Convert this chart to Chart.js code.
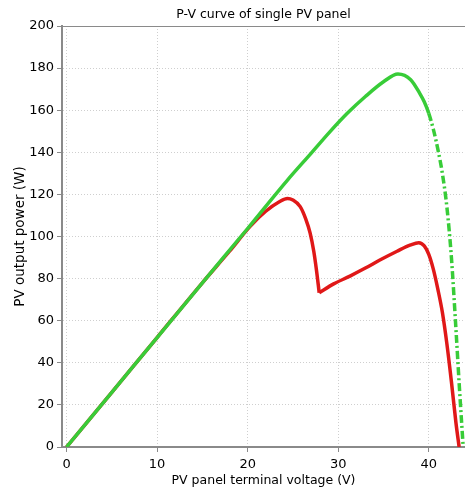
<!DOCTYPE html>
<html>
<head>
<meta charset="utf-8">
<script src="https://cdn.jsdelivr.net/npm/chart.js@4/dist/chart.umd.min.js"></script>
<style>
  html, body { margin: 0; padding: 0; background: #fff; }
  #wrap { width: 465px; height: 489px; }
</style>
</head>
<body>
<div id="wrap"><canvas id="pv_chart"></canvas></div>
<script>
// full panel curve (green)
const fullVoltage = [0, 5, 10, 15, 20, 24.4, 27, 29.1, 31, 33, 35, 36.6, 38, 39, 39.5, 40, 40.5, 41, 41.5, 42, 42.5, 43, 43.4, 43.8]
const fullPower   = [0, 26, 52, 78, 103.8, 126.8, 139.5, 149.8, 158.5, 166.5, 173.5, 177.2, 174.5, 168, 164, 158.5, 151, 141.5, 130, 114, 90, 56, 27, 0]

// partially shaded curve (red)
const shadedVoltage = [0, 5, 10, 15, 18, 20.25, 22, 23.5, 24.4, 25, 25.8, 26.4, 26.9, 27.3, 27.6, 27.9, 29.5, 31.3, 33, 34.6, 36.5, 38, 38.9, 39.5, 40, 40.5, 41, 41.5, 42, 42.5, 43, 43.35]
const shadedPower   = [0, 26, 52, 78, 93, 104.7, 112, 116.5, 118.1, 117.3, 114.2, 108.5, 101.6, 93, 84, 73.3, 77.5, 81.2, 85, 88.8, 93, 96, 97, 95.5, 91.5, 84.5, 75, 64, 49, 31, 11.5, 0]

const xTicks = [0, 10, 20, 30, 40]
const yTicks = [0, 20, 40, 60, 80, 100, 120, 140, 160, 180, 200]

const dashFrom = 40     // green turns dash-dot from here
const kinkVoltage = 27.9 // sharp corner of the red curve

function toPoints(xs, ys) {
    return xs.map((x, i) => ({x: x, y: ys[i]}))
}

const shadedPoints = toPoints(shadedVoltage, shadedPower)
const kink = shadedVoltage.indexOf(kinkVoltage)

const gridDash = ctx => (ctx.tick && ctx.tick.value === 200) ? [] : [1, 2]
const gridColor = ctx => (ctx.tick && ctx.tick.value === 200) ? '#8a8a8a' : '#cfcfcf'

const redLine = {
    showLine: true,
    borderColor: '#e01818',
    borderWidth: 3.5,
    pointRadius: 0,
    cubicInterpolationMode: 'monotone'
}

new Chart(document.getElementById('pv_chart'), {
    type: 'scatter',
    data: {
        datasets: [
            {
                label: 'Full',
                data: toPoints(fullVoltage, fullPower),
                showLine: true,
                borderColor: '#38cc38',
                borderWidth: 3.5,
                pointRadius: 0,
                cubicInterpolationMode: 'monotone',
                segment: {
                    borderDash: ctx => ctx.p0.parsed.x >= dashFrom ? [8, 3, 2, 3] : undefined
                }
            },
            Object.assign({label: 'Shaded', data: shadedPoints.slice(0, kink + 1)}, redLine),
            Object.assign({label: 'Shaded 2', data: shadedPoints.slice(kink)}, redLine)
        ]
    },
    options: {
        responsive: true,
        maintainAspectRatio: false,
        animation: false,
        layout: {padding: 0},
        plugins: {
            legend: {display: false},
            tooltip: {enabled: false},
            title: {
                display: true,
                text: 'P-V curve of single PV panel',
                fullSize: false,
                color: '#000',
                font: {family: 'DejaVu Sans', size: 12.5, weight: 'normal'},
                padding: {top: 7, bottom: 4}
            }
        },
        scales: {
            x: {
                type: 'linear',
                min: -0.5,
                max: 44,
                afterBuildTicks: s => { s.ticks = xTicks.map(v => ({value: v})) },
                afterFit: s => { s.height = 42 },
                ticks: {
                    color: '#000',
                    font: {family: 'DejaVu Sans', size: 13},
                    padding: 5,
                    maxRotation: 0
                },
                grid: {color: '#cfcfcf', tickColor: '#8a8a8a', tickLength: 5, lineWidth: 1},
                border: {color: '#8a8a8a', width: 2, dash: [1, 2]},
                title: {
                    display: true,
                    text: 'PV panel terminal voltage (V)',
                    color: '#000',
                    font: {family: 'DejaVu Sans', size: 12.5},
                    padding: {top: 0, bottom: 1}
                }
            },
            y: {
                type: 'linear',
                min: 0,
                max: 200,
                afterBuildTicks: s => { s.ticks = yTicks.map(v => ({value: v})) },
                afterFit: s => { s.width = 62 },
                ticks: {
                    color: '#000',
                    font: {family: 'DejaVu Sans', size: 13},
                    padding: 3
                },
                grid: {color: gridColor, tickColor: '#8a8a8a', tickLength: 5, lineWidth: 1},
                border: {color: '#8a8a8a', width: 2, dash: gridDash},
                title: {
                    display: true,
                    text: 'PV output power (W)',
                    color: '#000',
                    font: {family: 'DejaVu Sans', size: 13.5},
                    padding: {top: 12, bottom: 0}
                }
            }
        }
    }
})
</script>
</body>
</html>
